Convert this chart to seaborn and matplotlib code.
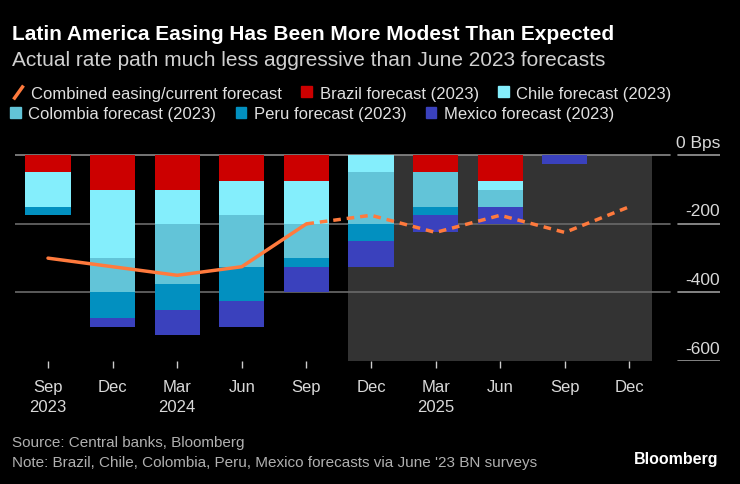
import numpy as np
import pandas as pd
import matplotlib
matplotlib.use("Agg")
import matplotlib.pyplot as plt
import seaborn as sns
from matplotlib.patches import Patch
from matplotlib.lines import Line2D

# data (bps)
dates = ["Sep\n2023", "Dec", "Mar\n2024", "Jun", "Sep", "Dec", "Mar\n2025", "Jun", "Sep", "Dec"]
brazil = [-50, -100, -100, -75, -75, 0, -50, -75, 0, 0]
chile = [-100, -200, -100, -100, -125, -50, 0, -25, 0, 0]
colombia = [0, -100, -175, -150, -100, -150, -100, -50, 0, 0]
peru = [-25, -75, -75, -100, -25, -50, -25, 0, 0, 0]
mexico = [0, -25, -75, -75, -75, -75, -50, -50, -25, 0]
combined = [-300, -325, -350, -325, -200, -175, -225, -175, -225, -150]
n_actual = 5  # first 5 points are realised, rest are the current forecast

yticks = [0, -200, -400, -600]
ylabels = ["0 Bps", "-200", "-400", "-600"]

countries = ["Brazil", "Chile", "Colombia", "Peru", "Mexico"]
colors = {"Brazil": "#cc0000", "Chile": "#84eefc", "Colombia": "#62c4d8",
          "Peru": "#0290c0", "Mexico": "#3a41bd"}
orange = "#ff7a3d"

sns.set_theme(style="dark")
plt.rcParams["font.family"] = ["Liberation Sans", "DejaVu Sans"]

fig = plt.figure(figsize=(7.4, 4.85), dpi=100, facecolor="black")
px_top, px_bot, px_l, px_r = 151.15, 362.0, 15, 720
ax = fig.add_axes([px_l / 740, 1 - px_bot / 485, (px_r - px_l) / 740, (px_bot - px_top) / 485])
ax.set_facecolor("black")

df = pd.DataFrame({"date": range(len(dates)), "Brazil": brazil, "Chile": chile,
                   "Colombia": colombia, "Peru": peru, "Mexico": mexico})
cum = df[countries].cumsum(axis=1)

bw = 0.7
# forecast period shading
ax.fill_between([5 - bw / 2, 9 + bw / 2], -600, 0, color="#333333", lw=0, zorder=0)

# gridlines, broken under the right-hand labels
for y in yticks:
    if y != -600:
        ax.axhline(y, xmin=0, xmax=0.929, color="#8a8a8a" if y == 0 else "#6a6a6a", lw=1.2, zorder=0.5)
    ax.axhline(y, xmin=0.940, xmax=1.0, color="#9a9a9a", lw=1.2, zorder=0.5)

# stacked bars: draw deepest cumulative first, then overlay shallower ones
for c in reversed(countries):
    sns.barplot(x=df["date"], y=cum[c], color=colors[c], width=bw, saturation=1,
                ax=ax, zorder=2, linewidth=0)

idx = np.arange(len(dates))
vals = np.array(combined)
sns.lineplot(x=idx[:n_actual], y=vals[:n_actual], color=orange, lw=2.5, ax=ax, zorder=5)
sns.lineplot(x=idx[n_actual - 1:], y=vals[n_actual - 1:], color=orange, lw=2.5, ax=ax,
             zorder=5, linestyle=(0, (2.2, 1.7)))

ax.set_xlim((px_l - 48) / 64.6, (px_r - 48) / 64.6)
ax.set_ylim(-600, 15)
ax.set_xticks(idx)
ax.set_xticklabels(dates, color="#d9d9d9", fontsize=12, linespacing=1.45)
ax.set_yticks([])
ax.set_xlabel("")
ax.set_ylabel("")
ax.tick_params(axis="x", bottom=True, length=5, width=1, color="#cccccc", pad=8)
for s in ax.spines.values():
    s.set_visible(False)

for y, lab in zip(yticks, ylabels):
    ax.text(ax.get_xlim()[1], y + 16, lab, ha="right", va="bottom", color="#d9d9d9", fontsize=12.5)

# titles
fig.text(12 / 740, 1 - 35 / 485, "Latin America Easing Has Been More Modest Than Expected",
         color="white", fontsize=15, fontweight="bold", va="center")
fig.text(12 / 740, 1 - 60 / 485, "Actual rate path much less aggressive than June 2023 forecasts",
         color="#d0d0d0", fontsize=15, va="center")

# legends (two rows)
slash = Line2D([], [], color=orange, lw=0, marker=[(-1, -1.4), (1, 1.4)],
               markersize=10, markeredgewidth=2.5, markeredgecolor=orange)
row1 = [slash] + [Patch(color=colors[c]) for c in ["Brazil", "Chile"]]
lab1 = ["Combined easing/current forecast", "Brazil forecast (2023)", "Chile forecast (2023)"]
row2 = [Patch(color=colors[c]) for c in ["Colombia", "Peru", "Mexico"]]
lab2 = ["Colombia forecast (2023)", "Peru forecast (2023)", "Mexico forecast (2023)"]
legkw = dict(loc="center left", ncol=3, frameon=False, fontsize=12, labelcolor="#e0e0e0",
             handlelength=0.65, handleheight=0.65, handletextpad=0.45, columnspacing=1.15,
             borderaxespad=0, borderpad=0)
fig.legend(row1, lab1, bbox_to_anchor=(13 / 740, 1 - 94 / 485), **legkw)
fig.legend(row2, lab2, bbox_to_anchor=(10 / 740, 1 - 115 / 485), **legkw)

fig.text(12 / 740, 1 - 443 / 485, "Source: Central banks, Bloomberg", color="#b0b0b0",
         fontsize=11, va="center")
fig.text(12 / 740, 1 - 463 / 485,
         "Note: Brazil, Chile, Colombia, Peru, Mexico forecasts via June '23 BN surveys",
         color="#b0b0b0", fontsize=11, va="center")
fig.text(718 / 740, 1 - 460 / 485, "Bloomberg", color="white", fontsize=11.5,
         fontweight="bold", ha="right", va="center")

fig.savefig("out.png", dpi=100, facecolor="black")
